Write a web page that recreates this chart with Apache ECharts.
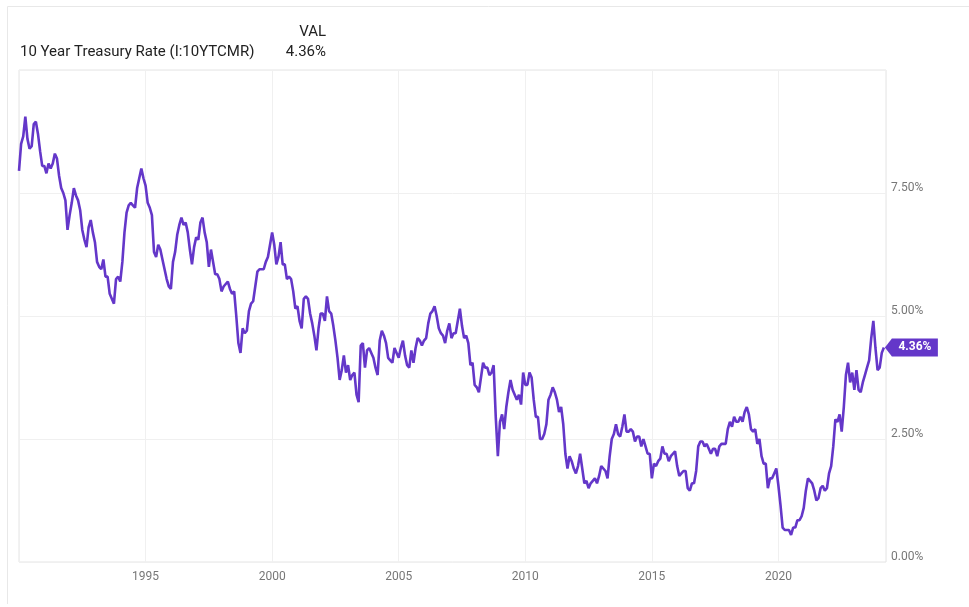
<!DOCTYPE html>
<html><head><meta charset="utf-8">
<script src="https://cdn.jsdelivr.net/npm/echarts@6/dist/echarts.min.js"></script>
<style>html,body{margin:0;padding:0;background:#fff}#c{width:969px;height:607px}</style>
</head><body><div id="c"></div><script>
// Monthly 10-year treasury rate (%)
const startYear = 1990;
const r1990 = [7.95, 8.5, 8.65, 9.05, 8.6, 8.4, 8.45, 8.9, 8.95, 8.7, 8.35, 8.05];
const r1991 = [8.05, 7.9, 8.1, 8.0, 8.1, 8.3, 8.2, 7.85, 7.6, 7.5, 7.35, 6.75];
const r1992 = [7.05, 7.3, 7.6, 7.45, 7.35, 7.15, 6.75, 6.55, 6.4, 6.8, 6.95, 6.7];
const r1993 = [6.5, 6.1, 6.0, 5.95, 6.15, 5.8, 5.8, 5.45, 5.35, 5.25, 5.75, 5.8];
const r1994 = [5.7, 6.1, 6.7, 7.1, 7.25, 7.3, 7.25, 7.2, 7.6, 7.8, 8.0, 7.8];
const r1995 = [7.65, 7.3, 7.2, 7.05, 6.3, 6.2, 6.45, 6.35, 6.15, 5.95, 5.75, 5.6];
const r1996 = [5.55, 6.1, 6.3, 6.65, 6.85, 7.0, 6.85, 6.9, 6.7, 6.35, 6.05, 6.4];
const r1997 = [6.6, 6.55, 6.9, 7.0, 6.7, 6.5, 6.0, 6.35, 6.1, 5.85, 5.85, 5.75];
const r1998 = [5.5, 5.6, 5.65, 5.7, 5.55, 5.45, 5.5, 5.0, 4.45, 4.25, 4.75, 4.65];
const r1999 = [4.7, 5.1, 5.25, 5.3, 5.6, 5.9, 5.95, 5.95, 5.95, 6.1, 6.2, 6.45];
const r2000 = [6.7, 6.45, 6.05, 6.2, 6.5, 6.05, 6.05, 5.75, 5.8, 5.75, 5.5, 5.15];
const r2001 = [5.2, 4.9, 4.75, 5.35, 5.4, 5.35, 5.05, 4.85, 4.6, 4.3, 4.75, 5.05];
const r2002 = [5.05, 4.9, 5.4, 5.1, 5.05, 4.8, 4.5, 4.15, 3.7, 3.9, 4.2, 3.85];
const r2003 = [4.0, 3.7, 3.8, 3.85, 3.4, 3.25, 4.4, 4.45, 3.95, 4.3, 4.35, 4.25];
const r2004 = [4.15, 3.95, 3.8, 4.5, 4.7, 4.6, 4.45, 4.15, 4.1, 4.05, 4.35, 4.25];
const r2005 = [4.15, 4.35, 4.5, 4.2, 4.0, 3.95, 4.3, 4.05, 4.35, 4.55, 4.5, 4.4];
const r2006 = [4.5, 4.55, 4.85, 5.05, 5.1, 5.2, 5.0, 4.75, 4.65, 4.6, 4.45, 4.7];
const r2007 = [4.85, 4.55, 4.65, 4.65, 4.9, 5.15, 4.8, 4.55, 4.6, 4.45, 4.0, 4.05];
const r2008 = [3.6, 3.55, 3.45, 3.75, 4.05, 3.95, 3.95, 3.8, 3.85, 4.0, 2.95, 2.15];
const r2009 = [2.85, 3.0, 2.7, 3.15, 3.45, 3.7, 3.5, 3.4, 3.3, 3.4, 3.2, 3.85];
const r2010 = [3.6, 3.6, 3.85, 3.75, 3.3, 2.95, 2.95, 2.5, 2.5, 2.6, 2.8, 3.3];
const r2011 = [3.4, 3.55, 3.45, 3.3, 3.05, 3.15, 2.8, 2.2, 1.9, 2.15, 2.05, 1.9];
const r2012 = [1.8, 1.95, 2.2, 1.9, 1.6, 1.65, 1.5, 1.6, 1.65, 1.7, 1.6, 1.75];
const r2013 = [1.95, 1.9, 1.85, 1.7, 2.15, 2.5, 2.6, 2.8, 2.6, 2.55, 2.75, 3.0];
const r2014 = [2.65, 2.65, 2.7, 2.65, 2.45, 2.55, 2.55, 2.35, 2.5, 2.35, 2.2, 2.2];
const r2015 = [1.7, 2.0, 1.95, 2.05, 2.1, 2.35, 2.2, 2.2, 2.05, 2.15, 2.2, 2.25];
const r2016 = [1.95, 1.75, 1.8, 1.85, 1.85, 1.5, 1.45, 1.6, 1.6, 1.85, 2.35, 2.45];
const r2017 = [2.45, 2.35, 2.4, 2.3, 2.2, 2.3, 2.3, 2.15, 2.35, 2.4, 2.4, 2.4];
const r2018 = [2.7, 2.85, 2.75, 2.95, 2.85, 2.85, 2.95, 2.85, 3.05, 3.15, 3.0, 2.7];
const r2019 = [2.65, 2.7, 2.4, 2.5, 2.15, 2.0, 2.0, 1.5, 1.7, 1.7, 1.8, 1.9];
const r2020 = [1.55, 1.15, 0.7, 0.65, 0.65, 0.65, 0.55, 0.7, 0.7, 0.85, 0.85, 0.93];
const r2021 = [1.1, 1.45, 1.7, 1.65, 1.6, 1.45, 1.25, 1.3, 1.5, 1.55, 1.45, 1.5];
const r2022 = [1.8, 1.95, 2.35, 2.9, 2.85, 3.0, 2.65, 3.15, 3.8, 4.05, 3.65, 3.85];
const r2023 = [3.5, 3.9, 3.5, 3.45, 3.65, 3.8, 3.95, 4.1, 4.55, 4.9, 4.35, 3.9];
const r2024 = [3.95, 4.25, 4.36];

const xTickLabels = [1995, 2000, 2005, 2010, 2015, 2020];
const yTickValues = [0, 2.5, 5, 7.5];
const seriesName = '10 Year Treasury Rate (I:10YTCMR)';
const lastValue = 4.36;

const yearly = [r1990,r1991,r1992,r1993,r1994,r1995,r1996,r1997,r1998,r1999,
  r2000,r2001,r2002,r2003,r2004,r2005,r2006,r2007,r2008,r2009,
  r2010,r2011,r2012,r2013,r2014,r2015,r2016,r2017,r2018,r2019,
  r2020,r2021,r2022,r2023,r2024];
const data = [];
yearly.forEach((arr, i) => arr.forEach((v, m) => data.push([startYear + i + m / 12, v])));

const lineColor = '#6437c9';
const chart = echarts.init(document.getElementById('c'));
chart.setOption({
  animation: false,
  backgroundColor: '#fff',
  textStyle: { fontFamily: 'Roboto' },
  grid: { left: 19, right: 83, top: 70, bottom: 45, show: true, borderColor: '#e4e4e4', borderWidth: 1 },
  graphic: [
    { type: 'polyline', shape: { points: [[7.5, 604], [7.5, 6.5], [969, 6.5]] }, style: { stroke: '#e8e8e8', fill: null, lineWidth: 1 } },
    { type: 'text', x: 326, y: 32, style: { text: 'VAL', fill: '#222', font: '15px Roboto', align: 'right', verticalAlign: 'middle' } },
    { type: 'text', x: 20, y: 52, style: { text: seriesName, fill: '#222', font: '15px Roboto', align: 'left', verticalAlign: 'middle' } },
    { type: 'text', x: 326, y: 52, style: { text: lastValue.toFixed(2) + '%', fill: '#222', font: '15px Roboto', align: 'right', verticalAlign: 'middle' } }
  ],
  xAxis: {
    type: 'value', min: 1990, max: 2024.25, interval: 5,
    axisLine: { show: false }, axisTick: { show: false },
    splitLine: { show: true, lineStyle: { color: '#f0f0f0' } },
    axisLabel: { color: '#777', fontSize: 12, margin: 9,
      formatter: v => xTickLabels.includes(v) ? String(v) : '' }
  },
  yAxis: {
    type: 'value', position: 'right', min: 0, max: 10, interval: 2.5,
    axisLine: { show: false }, axisTick: { show: false },
    splitLine: { show: true, lineStyle: { color: '#f0f0f0' } },
    axisLabel: { color: '#777', fontSize: 12, margin: 5, verticalAlign: 'bottom', lineHeight: 10,
      formatter: v => yTickValues.includes(v) ? v.toFixed(2) + '%' : '' }
  },
  series: [{
    type: 'line', name: seriesName, data: data, showSymbol: false,
    lineStyle: { color: lineColor, width: 2.6 }, itemStyle: { color: lineColor },
    markPoint: {
      silent: true,
      symbol: 'path://M0,9L7,0L53,0L53,18L7,18Z',
      symbolSize: [53, 18], symbolOffset: [27.5, 0],
      itemStyle: { color: lineColor },
      label: { show: true, color: '#fff', fontWeight: 'bold', fontSize: 12, offset: [3.5, 0],
        formatter: () => lastValue.toFixed(2) + '%' },
      data: [{ coord: data[data.length - 1] }]
    }
  }]
});
</script></body></html>
